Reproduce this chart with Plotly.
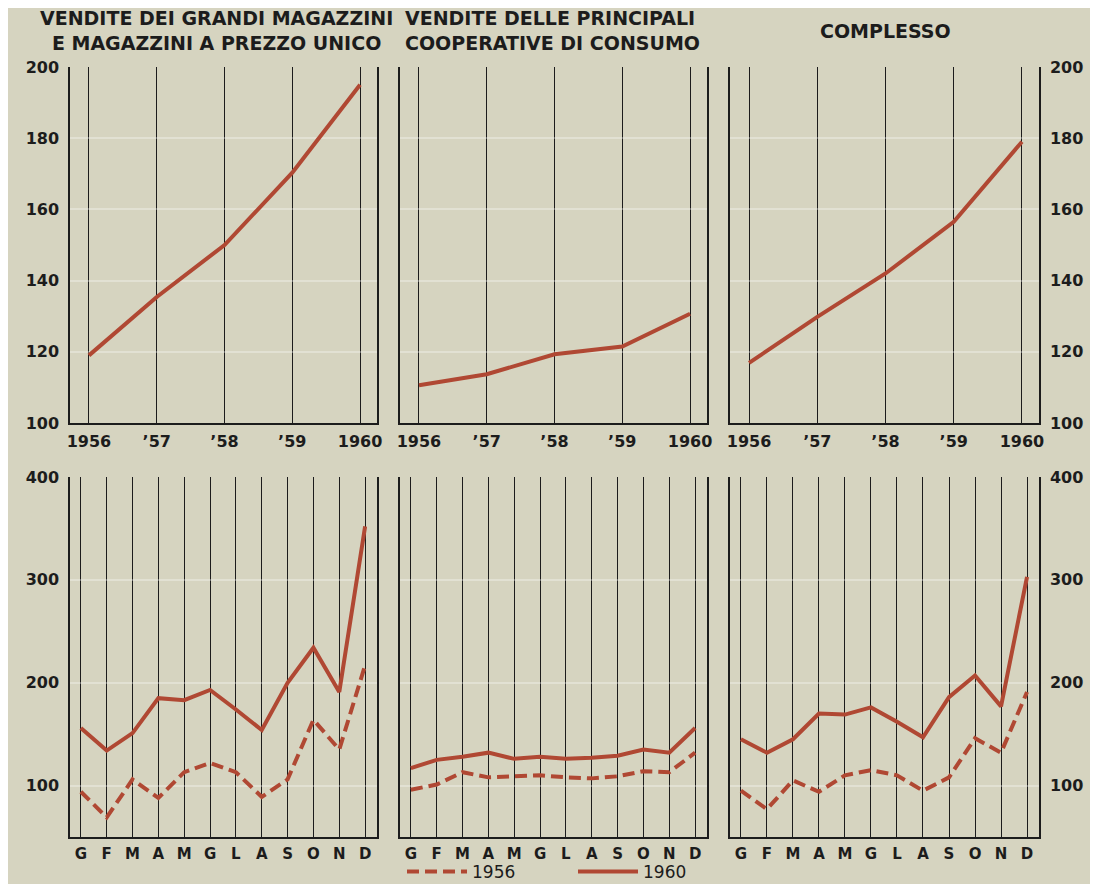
import plotly.graph_objects as go

# ---------------- data ----------------
years = [1956, 1957, 1958, 1959, 1960]
year_labels = ["1956", "’57", "’58", "’59", "1960"]
months = ["G", "F", "M", "A", "M", "G", "L", "A", "S", "O", "N", "D"]
month_pos = list(range(12))

titles = [
    "VENDITE DEI GRANDI MAGAZZINI<br>E MAGAZZINI A PREZZO UNICO",
    "VENDITE DELLE PRINCIPALI<br>COOPERATIVE DI CONSUMO",
    "COMPLESSO",
]

annual_grandi = [119, 135.4, 150, 170.3, 195]
annual_coop = [110.6, 113.7, 119.3, 121.5, 130.7]
annual_compl = [116.9, 129.8, 142, 156.5, 179]

m1956_grandi = [94, 69, 106, 88, 113, 122, 113, 89, 106, 164, 135, 217]
m1960_grandi = [156, 134, 151, 185, 183, 193, 174, 154, 200, 234, 191, 352]
m1956_coop = [96, 101, 113, 108, 109, 110, 108, 107, 109, 114, 113, 132]
m1960_coop = [117, 125, 128, 132, 126, 128, 126, 127, 129, 135, 132, 156]
m1956_compl = [95, 77, 105, 94, 110, 115, 110, 95, 108, 146, 132, 191]
m1960_compl = [145, 132, 145, 170, 169, 176, 162, 147, 186, 207, 177, 303]

top_ticks = [100, 120, 140, 160, 180, 200]
bottom_ticks = [100, 200, 300, 400]

# ---------------- style ----------------
BG = "#d6d4c0"
RED = "#b04833"
INK = "#1c1c1c"
FONT = "DejaVu Sans"
OFF = 8                      # page body margin
W, H = 1098 - 2 * OFF, 892 - 2 * OFF


def fx(p):
    return (p - OFF) / W


def fy(p):
    return 1 - (p - OFF) / H


xdom = [(fx(70), fx(377)), (fx(400), fx(707)), (fx(730), fx(1039))]
ydom_top = (fy(423), fy(67))
ydom_bot = (fy(837), fy(477))

fig = go.Figure()
layout = {}

annual_series = [annual_grandi, annual_coop, annual_compl]
monthly_series = [
    (m1956_grandi, m1960_grandi),
    (m1956_coop, m1960_coop),
    (m1956_compl, m1960_compl),
]

ylab_side = ["left", None, "right"]
tickfont = dict(family=FONT, size=16, color=INK, weight="bold")
monthfont = dict(family=FONT, size=15, color=INK, weight="bold")

for c in range(3):
    # ---- top row ----
    n = c + 1
    xa = "x" if n == 1 else f"x{n}"
    ya = "y" if n == 1 else f"y{n}"
    fig.add_trace(go.Scatter(
        x=years, y=annual_series[c], mode="lines", xaxis=xa, yaxis=ya,
        line=dict(color=RED, width=4), showlegend=False, hoverinfo="skip"))
    layout[f"xaxis{'' if n == 1 else n}"] = dict(
        domain=xdom[c], anchor=ya, range=[1955.72, 1960.25],
        tickvals=years, ticktext=year_labels, ticks="",
        showgrid=True, gridcolor=INK, gridwidth=1.3,
        showline=True, linecolor=INK, linewidth=1.5,
        zeroline=False, ticklabelstandoff=3,
        tickfont=tickfont)
    side = ylab_side[c]
    layout[f"yaxis{'' if n == 1 else n}"] = dict(
        domain=ydom_top, anchor=xa, range=[100, 200],
        tickvals=top_ticks, ticks="",
        showticklabels=side is not None, side=side or "left",
        showgrid=True, gridcolor="rgba(255,255,255,0.3)", gridwidth=2,
        showline=True, mirror=True, linecolor=INK, linewidth=1.5,
        zeroline=False, ticklabelstandoff=6,
        tickfont=tickfont)

    # ---- bottom row ----
    n = c + 4
    xa = f"x{n}"
    ya = f"y{n}"
    v56, v60 = monthly_series[c]
    fig.add_trace(go.Scatter(
        x=month_pos, y=v56, mode="lines", xaxis=xa, yaxis=ya, name="1956",
        legendgroup="1956", showlegend=(c == 0),
        line=dict(color=RED, width=4, dash="12px,6px"), hoverinfo="skip"))
    fig.add_trace(go.Scatter(
        x=month_pos, y=v60, mode="lines", xaxis=xa, yaxis=ya, name="1960",
        legendgroup="1960", showlegend=(c == 0),
        line=dict(color=RED, width=4), hoverinfo="skip"))
    layout[f"xaxis{n}"] = dict(
        domain=xdom[c], anchor=ya, range=[-0.42, 11.46],
        tickvals=month_pos, ticktext=months, ticks="",
        showgrid=True, gridcolor=INK, gridwidth=1.3,
        showline=True, linecolor=INK, linewidth=1.5,
        zeroline=False, ticklabelstandoff=2,
        tickfont=monthfont)
    layout[f"yaxis{n}"] = dict(
        domain=ydom_bot, anchor=xa, range=[50, 400],
        tickvals=bottom_ticks, ticks="",
        showticklabels=side is not None, side=side or "left",
        showgrid=True, gridcolor="rgba(255,255,255,0.3)", gridwidth=2,
        showline=True, mirror=True, linecolor=INK, linewidth=1.5,
        zeroline=False, ticklabelstandoff=6,
        tickfont=tickfont)

title_font = dict(family=FONT, size=19, color=INK, weight="bold")
annotations = [
    dict(text=titles[0], x=fx(216), y=fy(31), xref="paper", yref="paper",
         showarrow=False, align="center", xanchor="center", yanchor="middle",
         font=title_font),
    dict(text=titles[1], x=fx(403), y=fy(31), xref="paper", yref="paper",
         showarrow=False, align="left", xanchor="left", yanchor="middle",
         font=title_font),
    dict(text=titles[2], x=fx(886), y=fy(31), xref="paper", yref="paper",
         showarrow=False, align="center", xanchor="center", yanchor="middle",
         font=title_font),
]

fig.update_layout(
    **layout,
    annotations=annotations,
    width=W, height=H,
    margin=dict(l=0, r=0, t=0, b=0, autoexpand=False),
    paper_bgcolor=BG, plot_bgcolor=BG,
    showlegend=True,
    legend=dict(orientation="h", x=fx(573), xanchor="center",
                y=fy(872), yanchor="middle",
                bgcolor="rgba(0,0,0,0)", itemwidth=60, entrywidth=96,
                tracegroupgap=0,
                font=dict(family=FONT, size=17, color=INK)),
)

fig.write_html("out.html")
